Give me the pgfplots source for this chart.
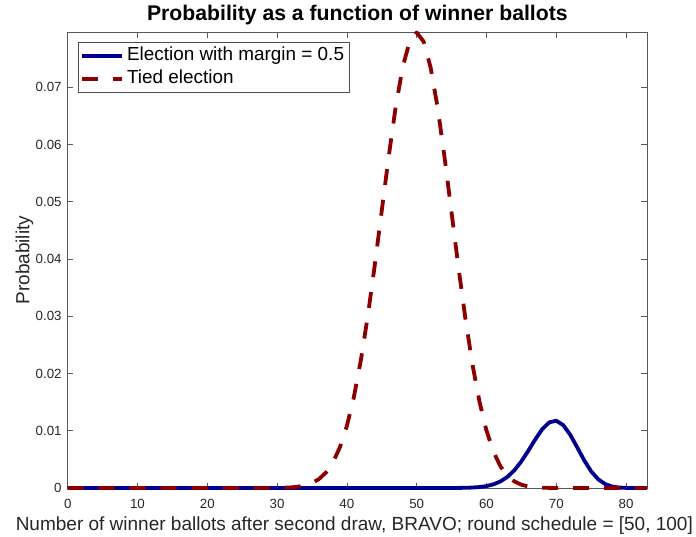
\documentclass[border=0pt]{standalone}
\usepackage{fontspec}
\setmainfont{Liberation Sans}
\usepackage{pgfplots}
\pgfplotsset{compat=1.18}
\definecolor{myblue}{RGB}{0,0,140}
\definecolor{myred}{RGB}{140,0,0}
\definecolor{axgray}{RGB}{38,38,38}
\begin{document}
\begin{tikzpicture}
\begin{axis}[
  name=ax,
  scale only axis,
  width=579.3bp, height=455.7bp,
  xmin=0, xmax=83, ymin=0, ymax=0.0796,
  clip=false,
  axis line style={draw=black!65, line width=0.6bp},
  every tick/.style={draw=black!65, line width=0.6bp},
  tick align=inside,
  xtick pos=both, ytick pos=both,
  major tick length=5.5bp,
  xtick={0,10,20,30,40,50,60,70,80},
  ytick={0,0.01,0.02,0.03,0.04,0.05,0.06,0.07},
  scaled y ticks=false,
  yticklabel style={/pgf/number format/fixed, /pgf/number format/precision=2,
    anchor=east, xshift=-2.6bp},
  xticklabel style={anchor=base, yshift=-20bp},
  /pgf/number format/assume math mode=true,
  tick label style={font=\fontsize{13.3bp}{15bp}\selectfont, text=axgray},
  title={Probability as a function of winner ballots},
  title style={at={(axis description cs:0.5,1)}, anchor=base, yshift=5.6bp,
    font=\fontsize{21.2bp}{25bp}\selectfont\bfseries},
  xlabel={Number of winner ballots after second draw, BRAVO; round schedule = [50, 100]},
  xlabel style={at={([xshift=-3bp]axis description cs:0.5,0)}, anchor=base, yshift=-42.7bp,
    font=\fontsize{19bp}{22bp}\selectfont, text=axgray},
  ylabel={Probability},
  ylabel style={at={([xshift=-38.4bp]axis description cs:0,0.5)}, anchor=base,
    font=\fontsize{19bp}{22bp}\selectfont, text=axgray},
  legend cell align=left,
  legend style={at={(axis description cs:0.0178,0.9787)}, anchor=north west,
    draw=black!70, line width=0.6bp, fill=white,
    font=\fontsize{18.9bp}{22bp}\selectfont,
    inner xsep=2bp, inner ysep=2bp, row sep=0bp,
    nodes={inner xsep=3bp, inner ysep=2.5bp, text height=14bp, text depth=4bp}},
  legend image code/.code={\draw[#1] (0bp,0bp) -- (40bp,0bp);},
]
\addplot[color=myblue, line width=3.8bp, line join=round] coordinates {
(0,0) (1,0) (2,0) (3,0) (4,0) (5,0) (6,0) (7,0) (8,0) (9,0)
(10,0) (11,0) (12,0) (13,0) (14,0) (15,0) (16,0) (17,0) (18,0) (19,0)
(20,0) (21,0) (22,0) (23,0) (24,0) (25,0) (26,0) (27,0) (28,0) (29,0)
(30,0) (31,0) (32,0) (33,0) (34,0) (35,0) (36,0) (37,0) (38,0) (39,0)
(40,0) (41,0) (42,0) (43,0) (44,0) (45,0) (46,0) (47,0) (48,0) (49,0)
(50,0) (51,0) (52,0) (53,0) (54,0) (55,0.000006) (56,0.000015) (57,0.000036) (58,0.00008) (59,0.00017)
(60,0.000335) (61,0.00064) (62,0.00114) (63,0.00194) (64,0.0031) (65,0.00465) (66,0.00652) (67,0.0085) (68,0.01029) (69,0.01147)
(70,0.01175) (71,0.01098) (72,0.0093) (73,0.0071) (74,0.00484) (75,0.00291) (76,0.00153) (77,0.00069) (78,0.00026) (79,0.00008)
(80,0.00002) (81,0.000003) (82,0) (83,0)
};
\addlegendentry{Election with margin = 0.5}
\addplot[color=myred, line width=3.8bp, dash pattern=on 16bp off 15bp, line join=round] coordinates {
(0,0) (1,0) (2,0) (3,0) (4,0) (5,0) (6,0) (7,0) (8,0) (9,0)
(10,0) (11,0) (12,0) (13,0) (14,0) (15,0) (16,0) (17,0) (18,0) (19,0)
(20,0) (21,0) (22,0) (23,0) (24,0) (25,0) (26,0) (27,0) (28,0) (29,0)
(30,0.00002) (31,0.00005) (32,0.00011) (33,0.00023) (34,0.00046) (35,0.00086) (36,0.00156) (37,0.0027) (38,0.00447) (39,0.00711)
(40,0.01084) (41,0.01587) (42,0.02229) (43,0.03007) (44,0.03895) (45,0.04847) (46,0.05796) (47,0.06663) (48,0.07353) (49,0.07803)
(50,0.07957) (51,0.07798) (52,0.07344) (53,0.06647) (54,0.05771) (55,0.0481) (56,0.03844) (57,0.02943) (58,0.02154) (59,0.01507)
(60,0.01002) (61,0.00635) (62,0.00379) (63,0.00215) (64,0.00115) (65,0.00057) (66,0.00027) (67,0.00011) (68,0.00005) (69,0.00002)
(70,0) (71,0) (72,0) (73,0) (74,0) (75,0) (76,0) (77,0) (78,0) (79,0)
(80,0) (81,0) (82,0) (83,0)
};
\addlegendentry{Tied election}
\end{axis}
\pgfresetboundingbox
\path[use as bounding box] ([xshift=-67.7bp,yshift=-49bp]ax.south west) rectangle ++(696bp,537bp);
\end{tikzpicture}
\end{document}
